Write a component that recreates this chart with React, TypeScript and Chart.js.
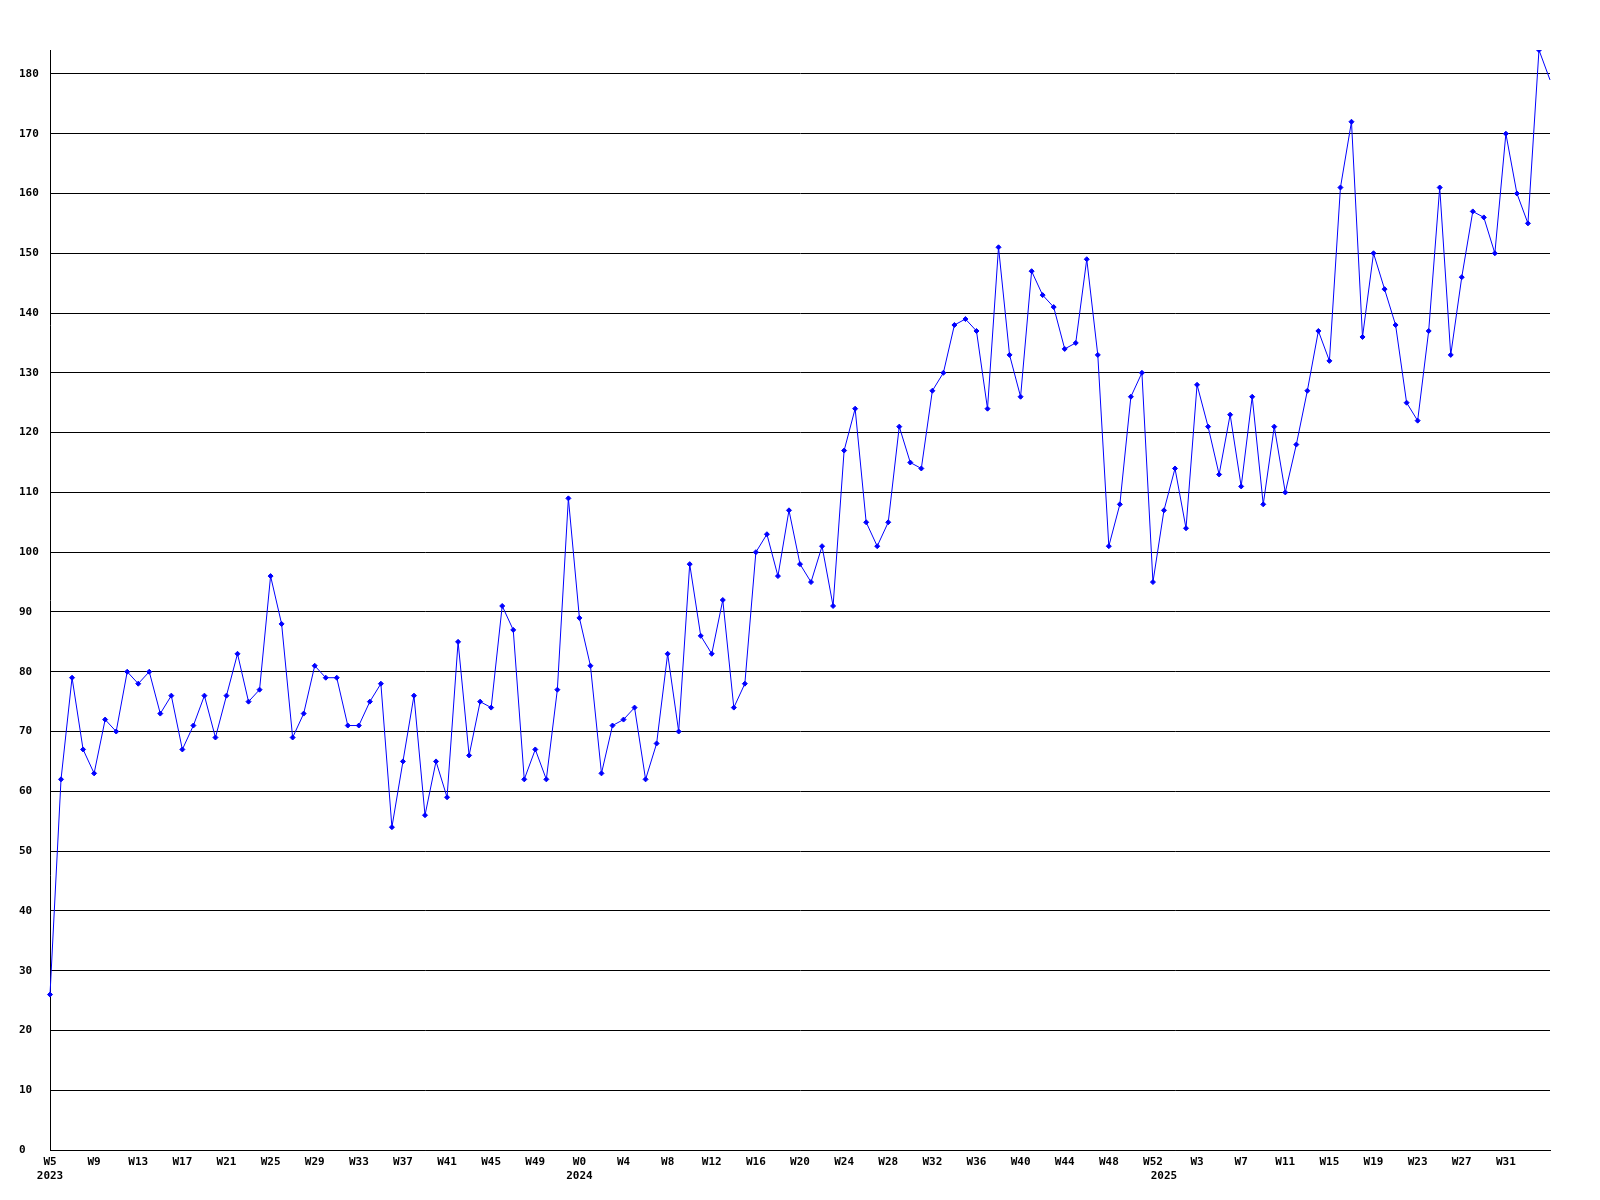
import React, { useEffect, useRef } from "react";
import { Chart, registerables } from "chart.js";

Chart.register(...registerables);

// Week numbers per year (category axis)
const weeks2023 = [5, 6, 7, 8, 9, 10, 11, 12, 13, 14, 15, 16, 17, 18, 19, 20, 21, 22, 23, 24, 25, 26, 27, 28, 29, 30, 31, 32, 33, 34, 35, 36, 37, 38, 39, 40, 41, 42, 43, 44, 45, 46, 47, 48, 49, 50, 51, 52];
const weeks2024 = [0, 1, 2, 3, 4, 5, 6, 7, 8, 9, 10, 11, 12, 13, 14, 15, 16, 17, 18, 19, 20, 21, 22, 23, 24, 25, 26, 27, 28, 29, 30, 31, 32, 33, 34, 35, 36, 37, 38, 39, 40, 41, 42, 43, 44, 45, 46, 47, 48, 49, 50, 51, 52];
const weeks2025 = [0, 1, 2, 3, 4, 5, 6, 7, 8, 9, 10, 11, 12, 13, 14, 15, 16, 17, 18, 19, 20, 21, 22, 23, 24, 25, 26, 27, 28, 29, 30, 31, 32, 33, 34, 35];

// Weekly values per year
const values2023 = [26, 62, 79, 67, 63, 72, 70, 80, 78, 80, 73, 76, 67, 71, 76, 69, 76, 83, 75, 77, 96, 88, 69, 73, 81, 79, 79, 71, 71, 75, 78, 54, 65, 76, 56, 65, 59, 85, 66, 75, 74, 91, 87, 62, 67, 62, 77, 109];
const values2024 = [89, 81, 63, 71, 72, 74, 62, 68, 83, 70, 98, 86, 83, 92, 74, 78, 100, 103, 96, 107, 98, 95, 101, 91, 117, 124, 105, 101, 105, 121, 115, 114, 127, 130, 138, 139, 137, 124, 151, 133, 126, 147, 143, 141, 134, 135, 149, 133, 101, 108, 126, 130, 95];
const values2025 = [107, 114, 104, 128, 121, 113, 123, 111, 126, 108, 121, 110, 118, 127, 137, 132, 161, 172, 136, 150, 144, 138, 125, 122, 137, 161, 133, 146, 157, 156, 150, 170, 160, 155, 184, 179];

const years = ["2023", "2024", "2025"];
const yTickStep = 10;
const yMax = 184;

export default function App() {
  const canvasRef = useRef<HTMLCanvasElement | null>(null);

  useEffect(() => {
    const canvas = canvasRef.current;
    if (!canvas) return;

    const weekGroups = [weeks2023, weeks2024, weeks2025];
    const labels: string[] = [];
    const yearAt: Record<number, string> = {};
    weekGroups.forEach((g, gi) => {
      yearAt[labels.length] = years[gi];
      g.forEach((w) => labels.push("W" + w));
    });
    const data = [...values2023, ...values2024, ...values2025];
    const last = labels.length - 1;

    const font = { family: "'DejaVu Sans Mono', monospace", weight: "bold" as const, size: 11, lineHeight: 1.3 };

    const chart = new Chart(canvas, {
      type: "line",
      data: {
        labels,
        datasets: [
          {
            data,
            borderColor: "#0000ff",
            backgroundColor: "#0000ff",
            borderWidth: 1,
            pointStyle: "rectRot",
            pointRadius: (ctx: any) => (ctx.dataIndex === last ? 0 : 2.5),
            pointBorderWidth: 1,
            pointBorderColor: "#0000ff",
            pointBackgroundColor: "#0000ff",
            tension: 0,
            fill: false,
          },
        ],
      },
      options: {
        animation: false,
        responsive: false,
        devicePixelRatio: 1,
        layout: { padding: { left: 19, top: 50, right: 50, bottom: 0 } },
        plugins: { legend: { display: false }, tooltip: { enabled: false }, title: { display: false } },
        scales: {
          x: {
            type: "category",
            offset: false,
            grid: { display: false, drawTicks: false },
            border: { color: "#000", width: 1 },
            ticks: {
              autoSkip: false,
              maxRotation: 0,
              minRotation: 0,
              padding: 5,
              color: "#000",
              font,
              callback: (_v: any, i: number) => {
                const yr = yearAt[i];
                const showWeek = i % 4 === 0 && i !== last;
                if (yr) return [showWeek ? labels[i] : "", yr];
                return showWeek ? labels[i] : "";
              },
            },
            afterFit: (s: any) => {
              s.height = 50;
            },
          },
          y: {
            min: 0,
            max: yMax,
            grid: { color: "#000", lineWidth: 1, drawTicks: false },
            border: { color: "#000", width: 1 },
            ticks: {
              stepSize: yTickStep,
              includeBounds: false,
              crossAlign: "far",
              padding: 0,
              color: "#000",
              font,
            },
            afterFit: (s: any) => {
              s.width = 31;
            },
          },
        },
      },
    });

    return () => chart.destroy();
  }, []);

  return (
    <div style={{ position: "absolute", left: 0, top: 0, width: 1600, height: 1200, background: "#fff" }}>
      <canvas ref={canvasRef} width={1600} height={1200} style={{ width: 1600, height: 1200, display: "block" }} />
    </div>
  );
}
